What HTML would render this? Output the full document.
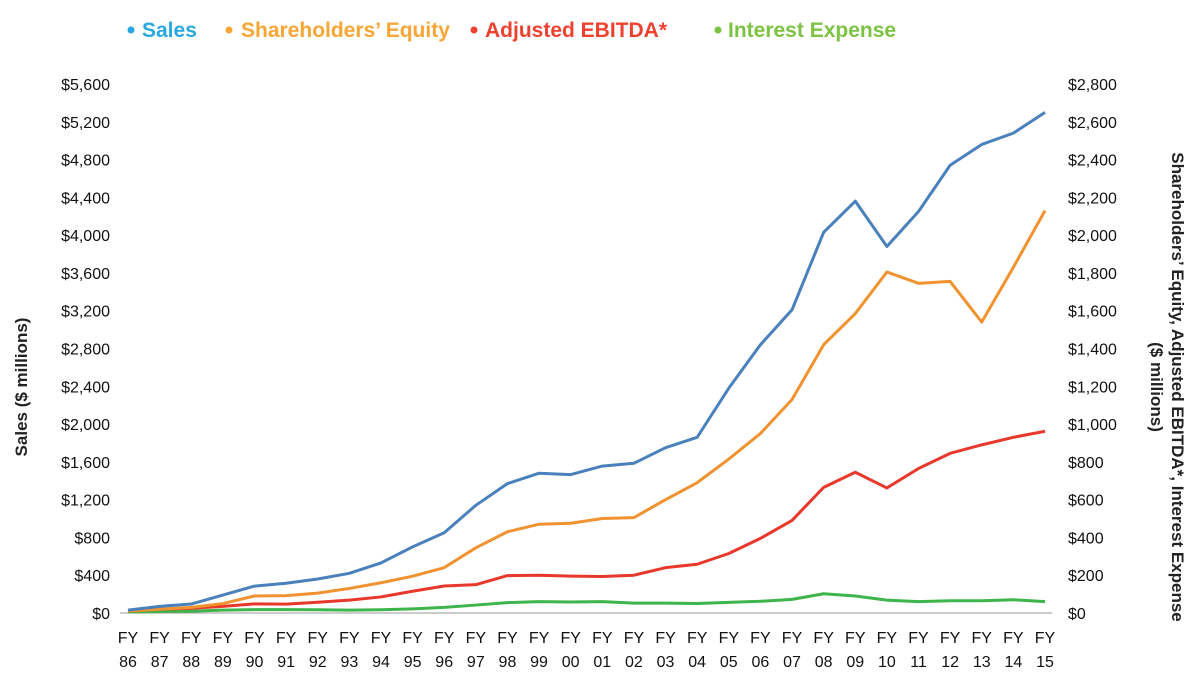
<!DOCTYPE html>
<html><head><meta charset="utf-8"><style>
body{margin:0;background:#fff;width:1200px;height:690px;overflow:hidden;font-family:"Liberation Sans",Arial,sans-serif}
svg text{font-family:"Liberation Sans",Arial,sans-serif}
</style></head><body>
<svg id="chart" width="1200" height="690" xmlns="http://www.w3.org/2000/svg">
<g id="legend" font-size="21" font-weight="bold">
 <g><circle cx="131" cy="30" r="3.5" fill="#29a8e0"/><text x="142" y="37" fill="#29a8e0">Sales</text></g>
 <g><circle cx="229" cy="30" r="3.5" fill="#f7a535"/><text x="241" y="37" fill="#f7a535">Shareholders’ Equity</text></g>
 <g><circle cx="474" cy="30" r="3.5" fill="#ef4130"/><text x="485" y="37" fill="#ef4130">Adjusted EBITDA*</text></g>
 <g><circle cx="718" cy="30" r="3.5" fill="#7dc242"/><text x="728" y="37" fill="#7dc242">Interest Expense</text></g>
</g>
<text transform="translate(27,387) rotate(-90)" text-anchor="middle" font-size="17" font-weight="bold" fill="#222">Sales ($ millions)</text>
<text transform="translate(1172,387) rotate(90)" text-anchor="middle" font-size="17" font-weight="bold" fill="#222"><tspan x="0" dy="0">Shareholders’ Equity, Adjusted EBITDA*, Interest Expense</tspan><tspan x="0" dy="21">($ millions)</tspan></text>
<line x1="120" y1="613" x2="1052" y2="613" stroke="#999" stroke-width="1"/>
<g id="axes"></g>
<g id="series"></g>
</svg>
<script>
const categories=["86","87","88","89","90","91","92","93","94","95","96","97","98","99","00","01","02","03","04","05","06","07","08","09","10","11","12","13","14","15"];
const sales=[30,70,95,190,285,315,360,420,530,700,850,1140,1370,1480,1465,1555,1585,1750,1860,2380,2840,3210,4030,4360,3880,4250,4740,4960,5080,5300];
const equity=[10,20,30,50,90,92,105,130,160,195,240,345,430,470,475,500,505,600,690,815,950,1130,1420,1585,1805,1745,1755,1540,1830,2130];
const ebitda=[10,20,25,35,48,47,57,68,85,115,143,150,198,200,195,193,200,240,258,315,395,490,665,745,662,765,845,890,930,962];
const interest=[5,8,10,15,18,18,17,15,17,22,30,42,55,60,58,60,52,52,50,56,62,72,102,90,68,60,65,65,70,60];
const leftTicks=[0,400,800,1200,1600,2000,2400,2800,3200,3600,4000,4400,4800,5200,5600];
const rightTicks=[0,200,400,600,800,1000,1200,1400,1600,1800,2000,2200,2400,2600,2800];
const NS="http://www.w3.org/2000/svg";
const x0=128,x1=1045,yB=613,yT=84;
const xs=i=>x0+(x1-x0)*i/(categories.length-1);
const yL=v=>yB-(yB-yT)*v/5600;
const yR=v=>yB-(yB-yT)*v/2800;
const fmt=v=>"$"+v.toLocaleString("en-US");
const axes=document.getElementById("axes"),ser=document.getElementById("series");
function txt(x,y,s,anchor){const t=document.createElementNS(NS,"text");t.setAttribute("x",x);t.setAttribute("y",y);t.setAttribute("text-anchor",anchor);t.setAttribute("font-size","16");t.setAttribute("fill","#111");t.textContent=s;axes.appendChild(t);return t;}
leftTicks.forEach(v=>{const t=txt(110,yL(v)+6,fmt(v),"end");

});
rightTicks.forEach(v=>{const t=txt(1068,yR(v)+6,fmt(v),"start");

});
categories.forEach((c,i)=>{const t=document.createElementNS(NS,"text");t.setAttribute("x",xs(i));t.setAttribute("y",643);t.setAttribute("text-anchor","middle");t.setAttribute("font-size","16");t.setAttribute("fill","#111");
t.innerHTML='<tspan x="'+xs(i)+'">FY</tspan><tspan x="'+xs(i)+'" dy="24">'+c+'</tspan>';


axes.appendChild(t);});
function line(data,yf,color,name){const p=document.createElementNS(NS,"polyline");
p.setAttribute("points",data.map((v,i)=>xs(i)+","+yf(v)).join(" "));
p.setAttribute("fill","none");p.setAttribute("stroke",color);p.setAttribute("stroke-width","3");p.setAttribute("stroke-linejoin","round");


ser.appendChild(p);}
line(interest,yR,"#3db54a","interest-expense-line");
line(ebitda,yR,"#e8382b","adjusted-ebitda-line");
line(equity,yR,"#f0922f","shareholders-equity-line");
line(sales,yL,"#4a81bd","sales-line");
</script>
</body></html>
